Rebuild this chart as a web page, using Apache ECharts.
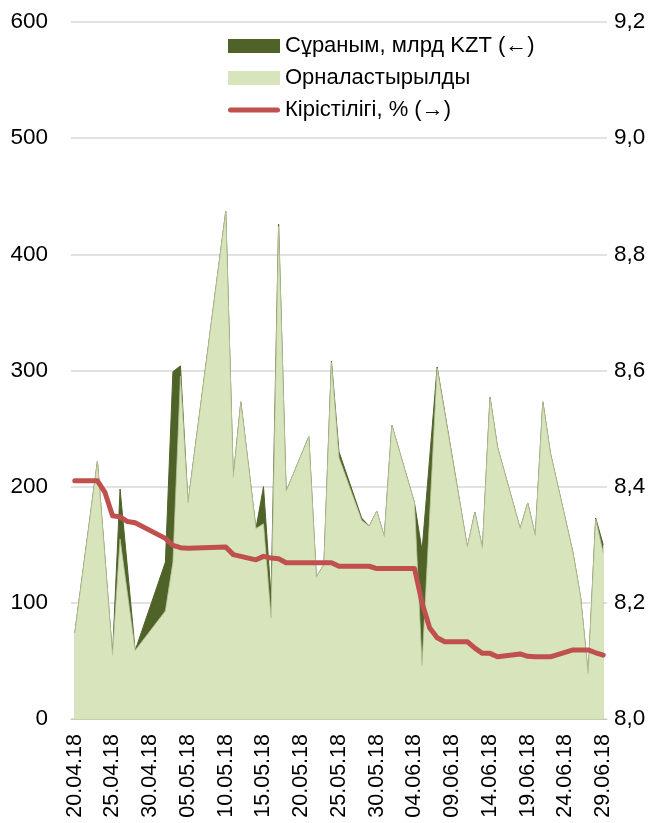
<!DOCTYPE html>
<html><head><meta charset="utf-8">
<script src="https://cdn.jsdelivr.net/npm/echarts@6/dist/echarts.min.js"></script>
<style>html,body{margin:0;padding:0;background:#fff;overflow:hidden}#c{width:663px;height:823px}</style>
</head><body><div id="c"></div>
<script>
// Auction dates (dd.mm.yy)
const obsDates = ['20.04.18','23.04.18','24.04.18','25.04.18','26.04.18','27.04.18','28.04.18',
 '02.05.18','03.05.18','04.05.18','05.05.18','10.05.18','11.05.18','12.05.18','14.05.18','15.05.18',
 '16.05.18','17.05.18','18.05.18','21.05.18','22.05.18','23.05.18','24.05.18','25.05.18','28.05.18',
 '29.05.18','30.05.18','31.05.18','01.06.18','04.06.18','05.06.18','06.06.18','07.06.18','08.06.18',
 '11.06.18','12.06.18','13.06.18','14.06.18','15.06.18','18.06.18','19.06.18','20.06.18','21.06.18',
 '22.06.18','25.06.18','26.06.18','27.06.18','28.06.18','29.06.18'];
// Placed volume, bn KZT
const placed = [74,222,null,55,155,null,59,93,135,295,186,437,208,273,164,168,87,424,196,243,122,133,
 307,225,171,166,179,157,253,186,46,null,302,null,148,178,147,277,234,164,186,158,273,229,143,105,39,172,143];
// Demand, bn KZT
const demand = [74,222,null,55,198,null,59,135,299,304,186,437,208,273,164,200,105,426,196,243,122,133,
 308,230,173,166,179,157,253,186,145,null,303,null,148,178,147,277,234,164,186,158,273,229,143,105,39,173,150];
// Yield, %
const yieldPct = [8.41,8.41,8.39,8.35,8.348,8.34,8.338,8.311,8.299,8.295,8.294,8.296,8.283,8.28,8.274,8.28,
 8.277,8.276,8.269,8.269,8.269,8.269,8.269,8.263,8.263,8.263,8.259,8.259,8.259,8.259,8.20,8.157,8.14,8.133,
 8.133,8.122,8.113,8.113,8.107,8.112,8.108,8.107,8.107,8.107,8.119,8.119,8.119,8.114,8.11];

const seriesNames = ['Сұраным, млрд KZT (←)','Орналастырылды','Кірістілігі, % (→)'];
const leftTicks = {min:0,max:600,interval:100};
const rightTicks = {min:8.0,max:9.2,interval:0.2};

// daily category axis 20.04.18 .. 29.06.18
const cats = [];
{
  const d = new Date(Date.UTC(2018,3,20)), end = new Date(Date.UTC(2018,5,29));
  while (d <= end) {
    const dd = String(d.getUTCDate()).padStart(2,'0'), mm = String(d.getUTCMonth()+1).padStart(2,'0');
    cats.push(dd+'.'+mm+'.18');
    d.setUTCDate(d.getUTCDate()+1);
  }
}
function toCat(vals){
  const arr = cats.map(()=>null);
  obsDates.forEach((dt,i)=>{ const k = cats.indexOf(dt); if (k>=0) arr[k] = vals[i]; });
  return arr;
}

const FONT = "'Liberation Sans',Arial,sans-serif";
const chart = echarts.init(document.getElementById('c'), null, {renderer:'canvas'});
chart.setOption({
  animation:false,
  textStyle:{fontFamily:FONT},
  grid:{left:71,right:56,top:22,bottom:104,containLabel:false},
  legend:{
    orient:'vertical', left:223, top:29, itemWidth:52, itemHeight:14, itemGap:8,
    textStyle:{fontFamily:FONT,fontSize:22,color:'#000',lineHeight:24},
    data:[{name:seriesNames[0],icon:'rect'},{name:seriesNames[1],icon:'rect'},
          {name:seriesNames[2],icon:'path://M2.5,0 L49.5,0 A2.5,2.5 0 0 1 49.5,5 L2.5,5 A2.5,2.5 0 0 1 2.5,0 Z'}]
  },
  xAxis:{
    type:'category', data:cats, boundaryGap:true,
    axisLine:{show:true,lineStyle:{color:'#c4d1a4',width:1}},
    axisTick:{show:false},
    axisLabel:{interval:4,rotate:90,fontFamily:FONT,fontSize:21.5,color:'#000',margin:15}
  },
  yAxis:[
    {type:'value',min:leftTicks.min,max:leftTicks.max,interval:leftTicks.interval,
     axisLine:{show:false},axisTick:{show:false},
     axisLabel:{fontFamily:FONT,fontSize:22.5,color:'#000',margin:23},
     splitLine:{lineStyle:{color:'#d9d9d9',width:1.5}}},
    {type:'value',min:rightTicks.min,max:rightTicks.max,interval:rightTicks.interval,
     axisLine:{show:false},axisTick:{show:false},splitLine:{show:false},
     axisLabel:{fontFamily:FONT,fontSize:22.5,color:'#000',margin:7,
       formatter:v=>v.toFixed(1).replace('.',',')}}
  ],
  series:[
    {name:seriesNames[0],type:'line',data:toCat(demand),connectNulls:true,symbol:'none',
     itemStyle:{color:'#4f6228'},lineStyle:{color:'#4f6228',width:1},
     areaStyle:{color:'#4f6228',opacity:1},z:1},
    {name:seriesNames[1],type:'line',data:toCat(placed),connectNulls:true,symbol:'none',
     itemStyle:{color:'#d8e4bc'},lineStyle:{color:'#b9c79a',width:0.8},
     areaStyle:{color:'#d8e4bc',opacity:1},z:2},
    {name:seriesNames[2],type:'line',yAxisIndex:1,data:toCat(yieldPct),connectNulls:true,symbol:'none',
     itemStyle:{color:'#c0504d'},lineStyle:{color:'#c0504d',width:5,cap:'round',join:'round'},z:3}
  ]
});
</script></body></html>
